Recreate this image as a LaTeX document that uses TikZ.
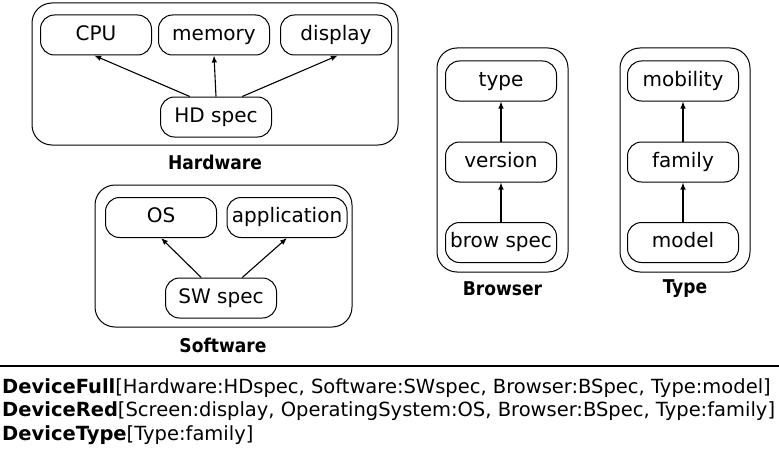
\documentclass[tikz,border=0pt]{standalone}
\usepackage{fontspec}
\setmainfont{DejaVu Sans}
\newfontfamily\titlefont{DejaVu Sans Condensed}
\usepackage{tikz}
\usetikzlibrary{arrows.meta, positioning}

\begin{document}
\begin{tikzpicture}[
    x=1pt, y=-1pt,
    group/.style={draw, line width=1pt, rounded corners=20pt},
    part/.style={draw, line width=1pt, rounded corners=14pt, minimum width=111pt, minimum height=40pt, inner sep=1pt, text height=14.5pt, text depth=4pt, font=\fontsize{20}{24}\selectfont},
    title/.style={font=\fontsize{19}{22}\selectfont\titlefont\bfseries},
    spec/.style={anchor=base west, inner sep=0pt, font=\fontsize{19.5}{23}\selectfont},
    arrow/.style={-{Latex[length=7pt,width=5.5pt]}, line width=1.1pt}
]
    \useasboundingbox (0,0) rectangle (779,452);

    % Groups
    \node[group, minimum width=366pt, minimum height=142pt] (hwbox) at (215,74) {};
    \node[title] (hwlabel) at (215,162) {Hardware};

    \node[group, minimum width=257pt, minimum height=142pt] (swbox) at (223.5,256) {};
    \node[title] (swlabel) at (223,345) {Software};

    \node[group, minimum width=131pt, minimum height=224pt] (brbox) at (502.5,160) {};
    \node[title] (brlabel) at (502.5,289) {Browser};

    \node[group, minimum width=130pt, minimum height=224pt] (tybox) at (685,160) {};
    \node[title] (tylabel) at (685,289) {Type};

    % Hardware parts
    \node[part] (cpu) at (96,35) {CPU};
    \node[part] (memory) at (214,35) {memory};
    \node[part] (display) at (336,35) {display};
    \node[part] (hdspec) at (216,117) {HD spec};

    % Software parts
    \node[part] (os) at (161,217.5) {OS};
    \node[part, minimum width=120pt] (application) at (287,217.5) {application};
    \node[part] (swspec) at (221,298) {SW spec};

    % Browser parts
    \node[part] (type) at (501,81) {type};
    \node[part] (version) at (501,162) {version};
    \node[part] (browspec) at (501,242.5) {brow spec};

    % Type parts
    \node[part] (mobility) at (683,81) {mobility};
    \node[part] (family) at (683,162) {family};
    \node[part] (model) at (683,242.5) {model};

    % Arrows
    \draw[arrow] (hdspec.142) -- (cpu.265);
    \draw[arrow] (hdspec.north) -- (memory.south);
    \draw[arrow] (hdspec.38) -- (display.275);
    \draw[arrow] (swspec.134) -- (os.south);
    \draw[arrow] (swspec.44) -- (application.south);
    \draw[arrow] (version) -- (type);
    \draw[arrow] (browspec) -- (version);
    \draw[arrow] (family) -- (mobility);
    \draw[arrow] (model) -- (family);

    % Specifications
    \coordinate (ruleleft) at (0,366);
    \coordinate (ruleright) at (779,366);
    \draw[line width=1.2pt] (ruleleft) -- (ruleright);
    \node[spec] (full) at (2,393) {\textbf{DeviceFull}[Hardware:HDspec, Software:SWspec, Browser:BSpec, Type:model]};
    \node[spec] (red) at (2,416.5) {\textbf{DeviceRed}[Screen:display, OperatingSystem:OS, Browser:BSpec, Type:family]};
    \node[spec] (dtype) at (2,440) {\textbf{DeviceType}[Type:family]};
\end{tikzpicture}
\end{document}
